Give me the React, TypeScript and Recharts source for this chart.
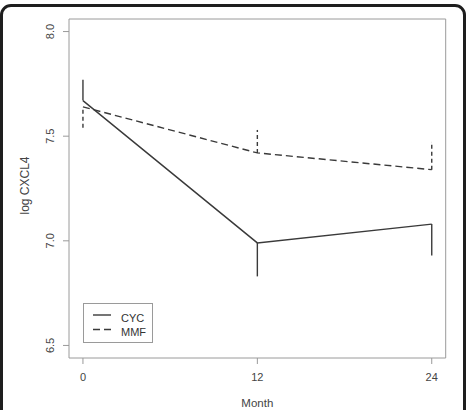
import React from 'react';
import { LineChart, Line, XAxis, YAxis, ErrorBar, ReferenceArea, Legend } from 'recharts';

const months = [0, 12, 24];
const cycValues = [7.67, 6.99, 7.08];
const mmfValues = [7.64, 7.42, 7.34];
const cycErrLow = [0, 0.16, 0.15];
const cycErrHigh = [0.1, 0, 0];
const mmfErrLow = [0.1, 0, 0];
const mmfErrHigh = [0, 0.11, 0.13];
const xTicks = [0, 12, 24];
const yTicks = [6.5, 7.0, 7.5, 8.0];
const seriesNames = ['CYC', 'MMF'];

const data = months.map((m, i) => ({
  month: m,
  cyc: cycValues[i],
  mmf: mmfValues[i],
  cycErr: [cycErrLow[i], cycErrHigh[i]],
  mmfErr: [mmfErrLow[i], mmfErrHigh[i]],
}));

const FONT = '"Liberation Sans", Arial, sans-serif';
const INK = '#3a3a3a';
const BOX = '#9a9a9a';

const YTick = (props: any) => {
  const { x, y, payload } = props;
  const cx = x - 10.5;
  return (
    <text
      x={cx}
      y={y}
      transform={`rotate(-90, ${cx}, ${y})`}
      textAnchor="middle"
      dominantBaseline="central"
      fontSize={11}
      fontFamily={FONT}
      fill="#444"
    >
      {Number(payload.value).toFixed(1)}
    </text>
  );
};

const XTick = (props: any) => {
  const { x, y, payload } = props;
  return (
    <text
      x={x}
      y={y + 11}
      textAnchor="middle"
      dominantBaseline="central"
      fontSize={11}
      fontFamily={FONT}
      fill="#444"
    >
      {payload.value}
    </text>
  );
};

const LegendBox = () => (
  <svg width={72} height={42} style={{ display: 'block' }}>
    <rect x={0.5} y={0.5} width={69} height={39} fill="#fff" stroke={BOX} strokeWidth={1} />
    <line x1={10} x2={28} y1={12} y2={12} stroke={INK} strokeWidth={1.4} />
    <line x1={10} x2={28} y1={26.5} y2={26.5} stroke={INK} strokeWidth={1.4} strokeDasharray="7 4" />
    <text x={38} y={14.5} dominantBaseline="central" fontSize={11} fontFamily={FONT} fill="#333">
      {seriesNames[0]}
    </text>
    <text x={38} y={28.5} dominantBaseline="central" fontSize={11} fontFamily={FONT} fill="#333">
      {seriesNames[1]}
    </text>
  </svg>
);

export default function App() {
  return (
    <div style={{ position: 'absolute', left: 0, top: 0, width: 469, height: 410, overflow: 'hidden', background: '#fff' }}>
      <div
        style={{
          position: 'absolute',
          left: 0,
          top: 4,
          width: 460,
          height: 430,
          border: '3px solid #1e1e1e',
          borderRadius: 11,
          boxSizing: 'content-box',
        }}
      />
      <div style={{ position: 'absolute', left: 0, top: 0 }}>
        <LineChart width={469} height={410} data={data} margin={{ top: 19, right: 23.3, bottom: 0, left: 0 }}>
          <ReferenceArea
            x1={-0.96}
            x2={24.96}
            y1={6.44}
            y2={8.06}
            fill="none"
            stroke={BOX}
            strokeWidth={1}
            ifOverflow="visible"
          />
          <XAxis
            dataKey="month"
            type="number"
            domain={[-0.96, 24.96]}
            ticks={xTicks}
            allowDataOverflow
            height={52}
            axisLine={false}
            tickLine={{ stroke: BOX }}
            tickSize={6}
            tick={<XTick />}
            label={{
              content: (p: any) => {
                const vb = p.viewBox;
                return (
                  <text
                    x={vb.x + vb.width / 2}
                    y={vb.y + 45}
                    textAnchor="middle"
                    dominantBaseline="central"
                    fontSize={11.5}
                    fontFamily={FONT}
                    fill="#444"
                  >
                    Month
                  </text>
                );
              },
            }}
          />
          <YAxis
            type="number"
            domain={[6.44, 8.06]}
            ticks={yTicks}
            allowDataOverflow
            width={69}
            axisLine={false}
            tickLine={{ stroke: BOX }}
            tickSize={6}
            tick={<YTick />}
            label={{
              content: (p: any) => {
                const vb = p.viewBox;
                const cx = vb.x + 25;
                const cy = vb.y + vb.height / 2 - 3;
                return (
                  <text
                    x={cx}
                    y={cy}
                    transform={`rotate(-90, ${cx}, ${cy})`}
                    textAnchor="middle"
                    dominantBaseline="central"
                    fontSize={12}
                    fontFamily={FONT}
                    fill="#444"
                  >
                    log CXCL4
                  </text>
                );
              },
            }}
          />
          <Legend
            layout="horizontal"
            verticalAlign="middle"
            align="center"
            wrapperStyle={{ left: 82.5, top: 302.5, width: 72, height: 42 }}
            content={<LegendBox />}
          />
          <Line
            dataKey="cyc"
            name={seriesNames[0]}
            stroke={INK}
            strokeWidth={1.4}
            dot={false}
            activeDot={false}
            isAnimationActive={false}
          >
            <ErrorBar dataKey="cycErr" direction="y" width={0} stroke={INK} strokeWidth={1.4} />
          </Line>
          <Line
            dataKey="mmf"
            name={seriesNames[1]}
            stroke={INK}
            strokeWidth={1.4}
            strokeDasharray="7 4"
            dot={false}
            activeDot={false}
            isAnimationActive={false}
          >
            <ErrorBar dataKey="mmfErr" direction="y" width={0} stroke={INK} strokeWidth={1.4} strokeDasharray="4 3" />
          </Line>
        </LineChart>
      </div>
    </div>
  );
}
